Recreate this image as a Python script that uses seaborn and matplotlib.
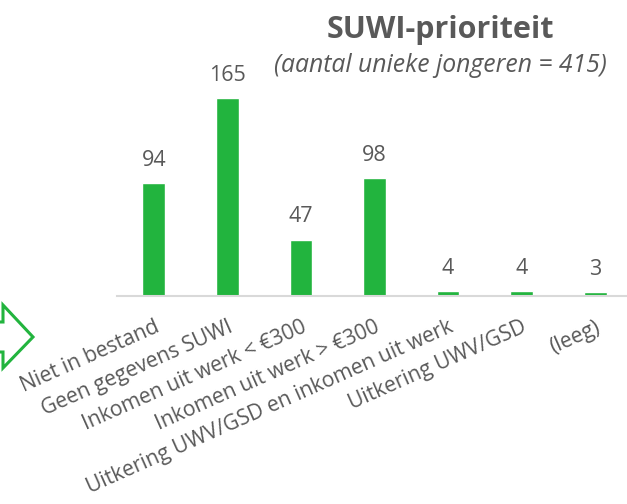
import matplotlib
matplotlib.use("Agg")
import matplotlib.pyplot as plt
import seaborn as sns
import pandas as pd
from matplotlib.patches import Polygon

categories = ["Niet in bestand", "Geen gegevens SUWI", "Inkomen uit werk < €300",
              "Inkomen uit werk > €300", "Uitkering UWV/GSD en inkomen uit werk",
              "Uitkering UWV/GSD", "(leeg)"]
values = [94, 165, 47, 98, 4, 4, 3]
title = "SUWI-prioriteit"
subtitle = "(aantal unieke jongeren = 415)"

sns.set_theme(style="white")
plt.rcParams['font.family'] = ['Open Sans', 'DejaVu Sans']

GREEN = "#22B43E"
GRAY = "#595959"

W, H = 627, 504
fig = plt.figure(figsize=(W/100, H/100), dpi=100)
ax_left = 117 / W
ax_w = (632 - 117) / W
ax_bottom = (H - 296) / H
ymax = 200
ax_h = ymax * 1.2 / H
ax = fig.add_axes([ax_left, ax_bottom, ax_w, ax_h])

df = pd.DataFrame({"cat": categories, "val": values})
sns.barplot(data=df, x="cat", y="val", color=GREEN, saturation=1, width=0.31, ax=ax)
ax.set_xlim(-0.5, 6.5)
ax.set_ylim(0, ymax)
ax.set_xlabel("")
ax.set_ylabel("")
ax.set_yticks([])
for s in ["top", "right", "left"]:
    ax.spines[s].set_visible(False)
ax.spines["bottom"].set_color("#D9D9D9")
ax.spines["bottom"].set_linewidth(1.5)
ax.spines["bottom"].set_clip_on(False)
ax.tick_params(axis="x", length=0, pad=15, colors=GRAY, labelsize=15.2)
plt.setp(ax.get_xticklabels(), rotation=24, ha="right", va="top", rotation_mode="anchor")

for i, v in enumerate(values):
    ax.annotate(str(v), (i, v), xytext=(0, 12.5), textcoords="offset points",
                ha="center", va="baseline", fontsize=15.5, color=GRAY)

fig.text(440 / W, 1 - 38 / H, title, ha="center", va="baseline", fontsize=22,
         fontweight="bold", color=GRAY)
fig.text(440 / W, 1 - 72 / H, subtitle, ha="center", va="baseline", fontsize=17.8,
         fontstyle="italic", color=GRAY)

pts = [(-20, 322), (3, 322), (3, 305), (33, 337), (3, 368), (3, 352), (-20, 352)]
pts = [(x / W, 1 - y / H) for x, y in pts]
fig.patches.append(Polygon(pts, closed=True, fill=False, edgecolor=GREEN, linewidth=2.2,
                           transform=fig.transFigure, figure=fig))

fig.savefig("out.png", dpi=100)
